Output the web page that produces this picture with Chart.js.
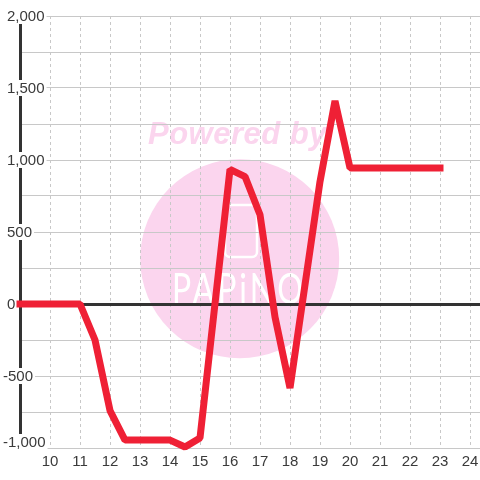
<!DOCTYPE html>
<html>
<head>
<meta charset="utf-8">
<style>
html, body { margin: 0; padding: 0; background: #fff; }
canvas { display: block; }
</style>
<script src="https://cdn.jsdelivr.net/npm/chart.js@4"></script>
</head>
<body>
<canvas id="myChart" width="480" height="480"></canvas>
<script>
var hours = [9, 11, 11.5, 12, 12.5, 14, 14.5, 15, 16, 16.5, 17, 17.5, 18, 19, 19.5, 20, 23];
var values = [0, 0, -250, -740, -945, -945, -993, -930, 935, 885, 620, -90, -583, 850, 1410, 945, 945];
var yTickValues = [2000, 1500, 1000, 500, 0, -500, -1000];
var yTickLabels = ['2,000', '1,500', '1,000', '500', '0', '-500', '-1,000'];
var xTickLabels = ['', '10', '11', '12', '13', '14', '15', '16', '17', '18', '19', '20', '21', '22', '23', '24'];

var labelFont = '15px "Liberation Sans"';
var labelColor = '#3a3a3a';
var pink = '#fbd5ee';

// white page, pink logo behind the grid
var watermark = {
    id: 'watermark',
    beforeDraw: function (chart) {
        var ctx = chart.ctx;
        ctx.save();
        ctx.fillStyle = '#fff';
        ctx.fillRect(0, 0, chart.width, chart.height);
        ctx.fillStyle = pink;
        ctx.beginPath();
        ctx.arc(239.7, 258.7, 99.5, 0, Math.PI * 2);
        ctx.fill();
        ctx.font = 'italic bold 31px "Liberation Sans"';
        ctx.textAlign = 'left';
        ctx.textBaseline = 'alphabetic';
        ctx.letterSpacing = '0.5px';
        ctx.fillText('Powered by', 148, 144);
        ctx.strokeStyle = '#fff';
        ctx.lineWidth = 2.5;
        ctx.beginPath();
        ctx.roundRect(225, 205, 32, 52, 5);
        ctx.stroke();
        ctx.fillStyle = '#fff';
        ctx.font = '42px Lato';
        ctx.letterSpacing = '4px';
        ctx.translate(172, 304);
        ctx.scale(0.76, 1);
        ctx.fillText('PAPiNO', 0, 0);
        ctx.restore();
    }
};

// y labels sit over the axis with a white box behind them
var yLabels = {
    id: 'yLabels',
    beforeDatasetsDraw: function (chart) {
        var ctx = chart.ctx;
        var y = chart.scales.y;
        ctx.save();
        ctx.font = labelFont;
        ctx.textAlign = 'left';
        ctx.textBaseline = 'middle';
        yTickValues.forEach(function (v, i) {
            // the bottom label is pushed up so it stays clear of the x labels
            var px = Math.min(y.getPixelForValue(v), 442);
            var text = yTickLabels[i];
            var left = v < 0 ? 3 : 7;
            var w = ctx.measureText(text).width;
            ctx.fillStyle = '#fff';
            ctx.fillRect(left - 2, px - 8, w + 4, 16);
            ctx.fillStyle = labelColor;
            ctx.fillText(text, left, px + 1);
        });
        ctx.restore();
    }
};

new Chart(document.getElementById('myChart'), {
    type: 'line',
    data: {
        datasets: [{
            data: hours.map(function (h, i) { return { x: h, y: values[i] }; }),
            borderColor: '#ef2035',
            borderWidth: 7,
            borderCapStyle: 'square',
            borderJoinStyle: 'bevel',
            tension: 0,
            pointRadius: 0,
            clip: false
        }]
    },
    options: {
        responsive: false,
        animation: false,
        layout: { padding: { left: 20, top: 16, right: 0, bottom: 0 } },
        plugins: { legend: { display: false }, tooltip: { enabled: false } },
        scales: {
            x: {
                type: 'linear',
                min: 9,
                max: 24.3333,
                afterFit: function (scale) {
                    scale.height = 32;
                    scale.paddingLeft = 0;
                    scale.paddingRight = 0;
                },
                grid: { color: '#c8c8c8', lineWidth: 1, drawTicks: false },
                border: { display: false, dash: [3, 3] },
                ticks: {
                    stepSize: 1,
                    includeBounds: false,
                    autoSkip: false,
                    maxRotation: 0,
                    padding: 5,
                    color: labelColor,
                    font: { family: 'Liberation Sans', size: 15 },
                    callback: function (value) { return xTickLabels[value - 9]; }
                }
            },
            y: {
                min: -1000,
                max: 2000,
                afterFit: function (scale) { scale.width = 0; },
                grid: {
                    color: function (c) { return c.tick.value === 0 ? '#333' : '#c8c8c8'; },
                    lineWidth: function (c) { return c.tick.value === 0 ? 3 : 1; },
                    drawTicks: false
                },
                border: { display: true, color: '#333', width: 3 },
                ticks: { stepSize: 250, display: false }
            }
        }
    },
    plugins: [watermark, yLabels]
});
</script>
</body>
</html>
